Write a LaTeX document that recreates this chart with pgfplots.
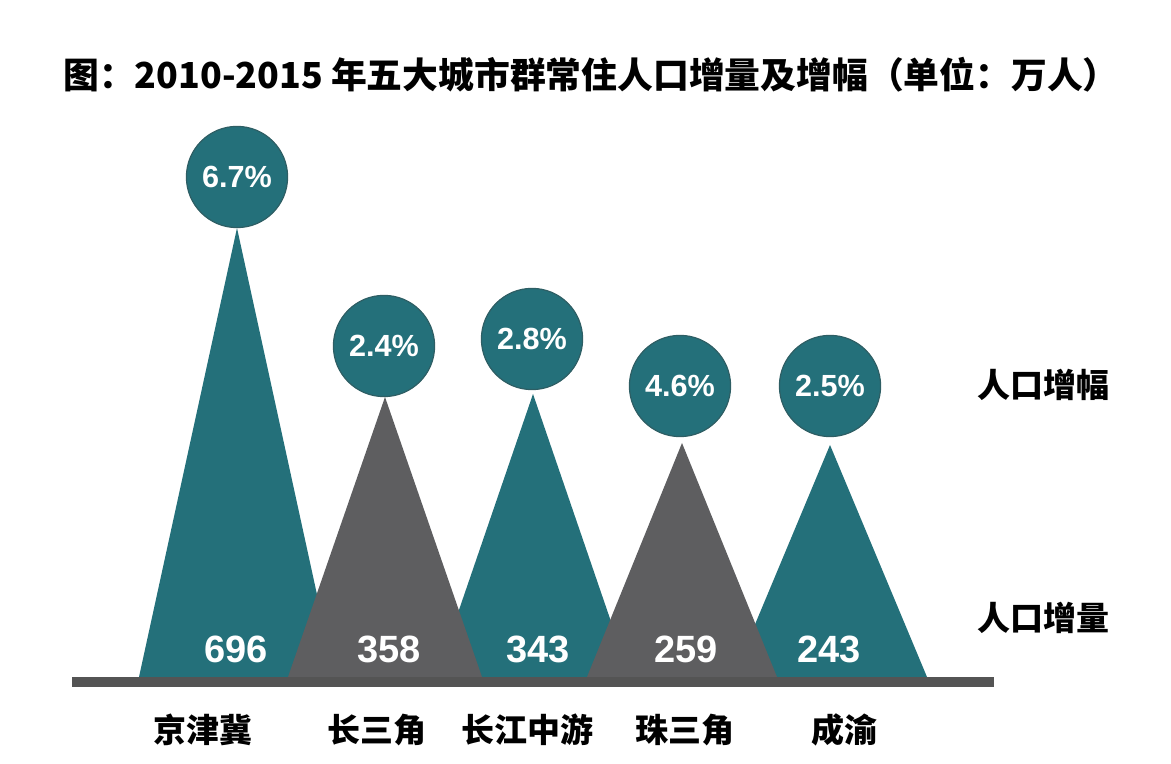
\documentclass[border=0pt]{standalone}
\usepackage{pgfplots}
\pgfplotsset{compat=1.18}
\usepackage{fontspec}
\setmainfont{Liberation Sans}
\newfontfamily\cjk{Noto Sans CJK SC}
\definecolor{tealc}{HTML}{24707A}
\definecolor{tealdk}{HTML}{2E5E64}
\definecolor{grayc}{HTML}{5E5E60}
\definecolor{basec}{HTML}{545454}
\begin{document}
\begin{tikzpicture}
\begin{axis}[
  width=585.5pt, height=382pt, scale only axis,
  xmin=0, xmax=1171, ymin=0, ymax=764,
  hide axis, clip=false,
]
% baseline bar
\addplot[fill=basec, draw=none] coordinates {(72,77) (994,77) (994,87) (72,87)} --cycle;
% teal triangles (drawn first)
\addplot[fill=tealc, draw=none] coordinates {(139,87) (237,536) (335,87)} --cycle;
\addplot[fill=tealc, draw=none] coordinates {(436,87) (533,370) (630,87)} --cycle;
\addplot[fill=tealc, draw=none] coordinates {(733,87) (830,319) (927,87)} --cycle;
% gray triangles (on top)
\addplot[fill=grayc, draw=none] coordinates {(288,87) (385,367) (482,87)} --cycle;
\addplot[fill=grayc, draw=none] coordinates {(587,87) (682,321) (777,87)} --cycle;
% circles with percent labels
\addplot[only marks, mark=*, mark size=25.3pt, mark options={fill=tealc, draw=tealdk, line width=0.6pt},
  point meta=explicit symbolic, nodes near coords,
  every node near coord/.style={anchor=center, text=white, font=\fontsize{15.3}{15.3}\selectfont\bfseries}]
  coordinates {(237,587) [6.7\%] (384,418) [2.4\%] (532,425) [2.8\%] (680,378) [4.6\%] (830,378) [2.5\%]};
% value labels
\node[text=white, font=\fontsize{19}{19}\selectfont\bfseries] at (axis cs:236,115) {696};
\node[text=white, font=\fontsize{19}{19}\selectfont\bfseries] at (axis cs:389,115) {358};
\node[text=white, font=\fontsize{19}{19}\selectfont\bfseries] at (axis cs:538,115) {343};
\node[text=white, font=\fontsize{19}{19}\selectfont\bfseries] at (axis cs:686,115) {259};
\node[text=white, font=\fontsize{19}{19}\selectfont\bfseries] at (axis cs:829,115) {243};
% category labels
\node[font=\cjk\fontsize{16.5}{16.5}\selectfont\bfseries] at (axis cs:203,34) {京津冀};
\node[font=\cjk\fontsize{16.5}{16.5}\selectfont\bfseries] at (axis cs:377,34) {长三角};
\node[font=\cjk\fontsize{16.5}{16.5}\selectfont\bfseries] at (axis cs:527,34) {长江中游};
\node[font=\cjk\fontsize{16.5}{16.5}\selectfont\bfseries] at (axis cs:685,34) {珠三角};
\node[font=\cjk\fontsize{16.5}{16.5}\selectfont\bfseries] at (axis cs:844,34) {成渝};
% right-side labels
\node[font=\cjk\fontsize{16.5}{16.5}\selectfont\bfseries] at (axis cs:1043,379) {人口增幅};
\node[font=\cjk\fontsize{16.5}{16.5}\selectfont\bfseries] at (axis cs:1043,146) {人口增量};
% title
\node[font=\cjk\fontsize{17.9}{17.9}\selectfont\bfseries] at (axis cs:591,689) {图：2010-2015 年五大城市群常住人口增量及增幅（单位：万人）};
\path (axis cs:0,0) rectangle (axis cs:1171,764);
\end{axis}
\end{tikzpicture}
\end{document}
